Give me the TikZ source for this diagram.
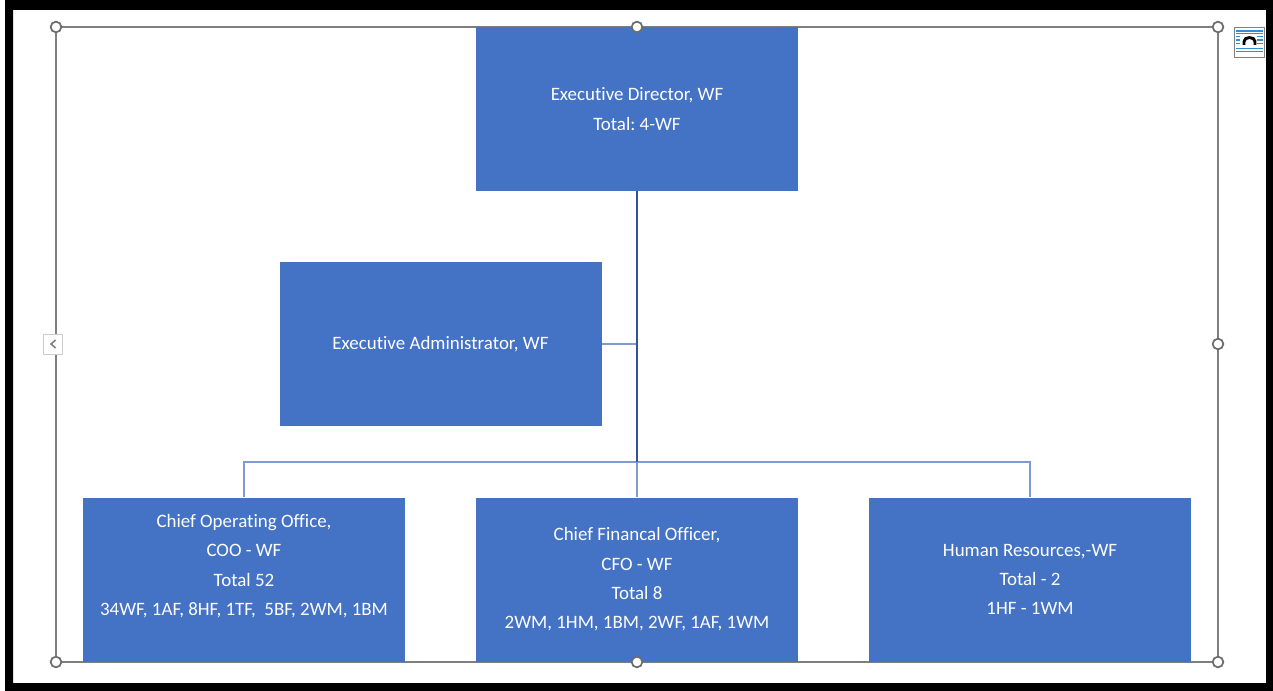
\documentclass[tikz,border=0pt]{standalone}
\usepackage{fontspec}
\setmainfont{Carlito}[Ligatures=NoCommon]
\usepackage{xcolor}
\definecolor{boxblue}{HTML}{4472C4}
\definecolor{trunkblue}{HTML}{2F5597}
\definecolor{linkblue}{HTML}{7F9BD2}
\definecolor{framegray}{HTML}{7F7F7F}
\frenchspacing

\begin{document}
\begin{tikzpicture}[x=0.75pt,y=0.75pt,yscale=-1,xscale=1,
  box/.style={fill=boxblue,draw=none,text=white,align=center,minimum width=241.5pt,minimum height=123pt,inner sep=0pt,font=\fontsize{14.2}{22}\selectfont},
  trunk/.style={draw=trunkblue,line width=1.6pt},
  link/.style={draw=linkblue,line width=1pt},
  handle/.style={circle,draw=framegray!85!black,line width=1.3pt,fill=white,minimum size=8pt,inner sep=0pt}]
\useasboundingbox (0,0) rectangle (1273,691);

% Screen border
\fill[black,even odd rule] (5,0) rectangle (1273,691) (13,10) rectangle (1266,683);

% Selection frame
\draw[framegray,line width=0.8pt] (56,27) rectangle (1218,662);

% Text Node
\node[box] (dir) at (637,109) {Executive Director, WF\\Total: 4-WF};
% Text Node
\node[box] (admin) at (440.5,344) {Executive Administrator, WF};
% Text Node
\node[box] (coo) at (244,579.5) {Chief Operating Office,\\COO - WF\\Total 52\\34WF, 1AF, 8HF, 1TF,\ \ 5BF, 2WM, 1BM\\\mbox{}};
% Text Node
\node[box] (cfo) at (637,579.5) {Chief Financal Officer,\\CFO - WF\\Total 8\\2WM, 1HM, 1BM, 2WF, 1AF, 1WM};
% Text Node
\node[box] (hr) at (1030,579.5) {Human Resources,-WF\\Total - 2\\1HF - 1WM};

\coordinate (bus) at (637,462);

% Connection
\draw[link] (admin.east) -- (admin.east -| bus);
% Connection
\draw[link] (coo.north) |- (bus) -| (hr.north);
% Connection
\draw[link] (bus) -- (cfo.north);
% Connection
\draw[trunk] (dir.south) -- (bus);

% Handles
\foreach \hx/\hy in {56/27,637/27,1218/27,1218/344,1218/662,637/662,56/662}
  \node[handle] (h-\hx-\hy) at (\hx,\hy) {};

% Left tab
\node[draw=gray!40,fill=white,line width=0.6pt,minimum width=14pt,minimum height=15pt,inner sep=0pt] (tab) at (53,344) {};
\draw[gray,line width=1.2pt] ([xshift=2pt,yshift=3pt]tab.center) -- ([xshift=-1.5pt]tab.center) -- ([xshift=2pt,yshift=-3pt]tab.center);

% Layout icon
\node[draw=gray,fill=white,line width=0.6pt,minimum width=23pt,minimum height=23pt,inner sep=0pt] (icon) at (1249.5,42.5) {};
\draw[boxblue!80!cyan,line width=0.8pt] (1236,31) -- (1263,31) (1236,33.7) -- (1263,33.7) (1236,48.5) -- (1263,48.5) (1236,51.2) -- (1263,51.2);
\foreach \ly in {36.7,40,43.3}
  \draw[boxblue!80!cyan,line width=0.8pt] (1236,\ly) -- (1240,\ly) (1257,\ly) -- (1263,\ly);
\draw[black,line width=2.2pt] (1244,45) -- (1244,41.5) arc[start angle=180,end angle=360,x radius=5.5,y radius=4] -- (1255,45);

\end{tikzpicture}
\end{document}
